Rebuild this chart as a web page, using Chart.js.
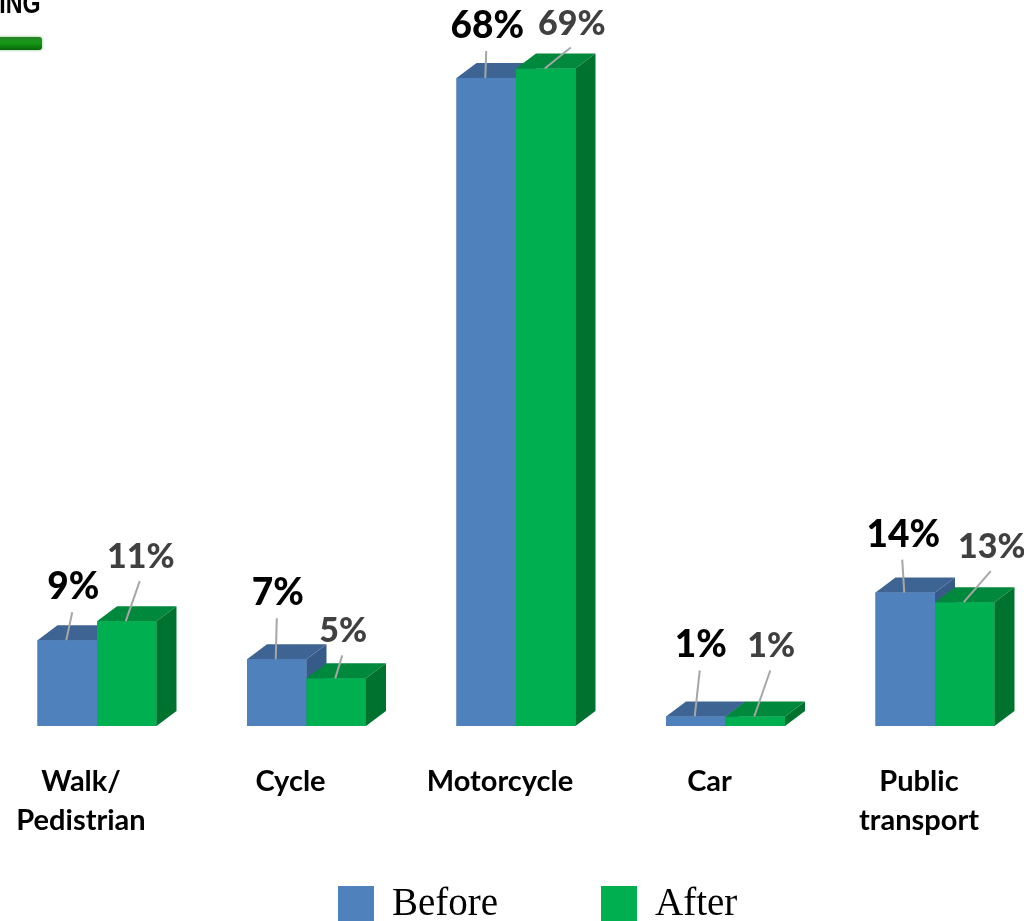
<!DOCTYPE html>
<html>
<head>
<meta charset="utf-8">
<title>Mode of travel</title>
<script src="https://cdn.jsdelivr.net/npm/chart.js@4.4.1/dist/chart.umd.min.js"></script>
<style>
  html, body { margin: 0; padding: 0; background: #fff; }
  canvas { display: block; }
</style>
</head>
<body>
<canvas id="modeChart" width="1024" height="921"></canvas>
<script>
// data
const modes = [['Walk/', 'Pedistrian'], 'Cycle', 'Motorcycle', 'Car', ['Public', 'transport']];
const seriesNames = ['Before', 'After'];
const beforeShare = [9, 7, 68, 1, 14];
const afterShare = [11, 5, 69, 1, 13];

// look
const faces = [
  { front: '#4F81BD', top: '#3E6494', side: '#365B88', text: '#000000', font: '900 37px Lato' },
  { front: '#00B050', top: '#00883D', side: '#00722F', text: '#404040', font: '900 34px Lato' }
];
const depthX = 20, depthY = 15;
// where each value label sits: [shift right of bar centre, height above bar top]
const labelNudge = [
  [[6, 41], [1, 54], [1, 40], [5, 59], [-2, 46]],
  [[14, 53], [7, 36], [26, 34], [16, 59], [27, 44]]
];

// redraw bars front + top + side, blue before green so faces overlap right
const bar3d = {
  id: 'bar3d',
  afterDatasetsDraw(chart) {
    const ctx = chart.ctx;
    for (let i = 0; i < modes.length; i++) {
      chart.data.datasets.forEach((ds, d) => {
        const bar = chart.getDatasetMeta(d).data[i];
        const c = faces[d];
        const { x, y, base, width } = bar.getProps(['x', 'y', 'base', 'width'], true);
        const l = x - width / 2, r = x + width / 2;
        bar.draw(ctx);
        ctx.save();
        ctx.fillStyle = c.top;
        ctx.beginPath();
        ctx.moveTo(l, y);
        ctx.lineTo(l + depthX, y - depthY);
        ctx.lineTo(r + depthX, y - depthY);
        ctx.lineTo(r, y);
        ctx.closePath();
        ctx.fill();
        ctx.fillStyle = c.side;
        ctx.beginPath();
        ctx.moveTo(r, y);
        ctx.lineTo(r + depthX, y - depthY);
        ctx.lineTo(r + depthX, base - depthY);
        ctx.lineTo(r, base);
        ctx.closePath();
        ctx.fill();
        ctx.restore();
      });
    }
  }
};

// value labels with leader lines, category names, legend
const extras = {
  id: 'extras',
  afterDraw(chart) {
    const ctx = chart.ctx;
    const xs = chart.scales.x;
    ctx.save();

    chart.data.datasets.forEach((ds, d) => {
      chart.getDatasetMeta(d).data.forEach((bar, i) => {
        const { x, y } = bar.getProps(['x', 'y'], true);
        const [dx, lift] = labelNudge[d][i];
        const tx = x + dx, base = y - lift;
        ctx.strokeStyle = '#A6A6A6';
        ctx.lineWidth = 2;
        ctx.beginPath();
        ctx.moveTo(x - 1, y);
        ctx.lineTo(tx - 1, base + 13);
        ctx.stroke();
        ctx.fillStyle = faces[d].text;
        ctx.font = faces[d].font;
        ctx.textAlign = 'center';
        ctx.textBaseline = 'alphabetic';
        ctx.fillText(ds.data[i] + '%', tx, base);
      });
    });

    ctx.fillStyle = '#000';
    ctx.font = 'bold 29px Lato';
    ctx.textAlign = 'center';
    modes.forEach((m, i) => {
      const cx = xs.getPixelForValue(i) - 16;
      [].concat(m).forEach((line, k) => ctx.fillText(line, cx, 791 + k * 39));
    });

    // legend
    const legendX = [338, 601];
    ctx.textAlign = 'left';
    ctx.font = '39px "Liberation Serif"';
    chart.data.datasets.forEach((ds, d) => {
      ctx.fillStyle = ds.backgroundColor;
      ctx.fillRect(legendX[d], 886, 36, 36);
      ctx.fillStyle = '#000';
      ctx.fillText(ds.label, legendX[d] + 54, 915);
    });

    // cut-off heading remnant in the corner
    ctx.save();
    ctx.scale(0.8, 1);
    ctx.font = 'bold 29px "Liberation Sans"';
    ctx.fillText('ING', -1, 13);
    ctx.restore();
    const g = ctx.createLinearGradient(0, 36, 0, 50);
    g.addColorStop(0, '#2E7D2E');
    g.addColorStop(0.5, '#139A13');
    g.addColorStop(1, '#0B640B');
    ctx.fillStyle = g;
    ctx.shadowColor = 'rgba(40,140,40,0.6)';
    ctx.shadowBlur = 3;
    ctx.beginPath();
    ctx.roundRect(-4, 37, 46, 13, 3);
    ctx.fill();
    ctx.restore();
  }
};

new Chart(document.getElementById('modeChart'), {
  type: 'bar',
  data: {
    labels: modes,
    datasets: [
      { label: seriesNames[0], data: beforeShare, backgroundColor: faces[0].front },
      { label: seriesNames[1], data: afterShare, backgroundColor: faces[1].front }
    ]
  },
  options: {
    responsive: false,
    animation: false,
    clip: false,
    categoryPercentage: 0.568,
    barPercentage: 1,
    layout: { padding: { left: 97, right: 89, top: 59, bottom: 195 } },
    plugins: { legend: { display: false }, tooltip: { enabled: false } },
    scales: {
      x: { display: false, offset: false },
      y: { display: false, min: 0, max: 70 }
    }
  },
  plugins: [bar3d, extras]
});
</script>
</body>
</html>
